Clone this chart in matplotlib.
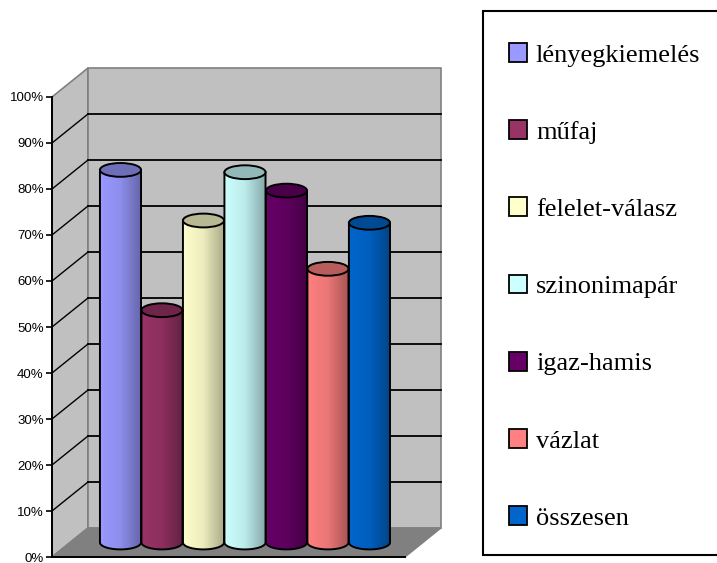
"""Hungarian task-type results, Excel style 3D cylinder chart."""
import matplotlib
matplotlib.use("Agg")
import matplotlib.pyplot as plt
import numpy as np
from matplotlib.colors import LinearSegmentedColormap, to_rgb
from matplotlib.patches import Ellipse, Patch, Polygon, Rectangle

labels = ["lényegkiemelés", "műfaj", "felelet-válasz", "szinonimapár", "igaz-hamis", "vázlat", "összesen"]
values = [81, 50.5, 70, 80.5, 76.5, 59.5, 69.5]
colors = ["#9999FF", "#993366", "#FFFFCC", "#CCFFFF", "#660066", "#FF8080", "#0066CC"]
y_ticks = [0, 10, 20, 30, 40, 50, 60, 70, 80, 90, 100]

# depth of the fake 3D box, in data units
DX = 0.867
DY = 6.3
X_MIN = -1.217
X_MAX = 7.29
BAR_W = 0.99
ELL_H = 3.0

fig = plt.figure(figsize=(7.17, 5.63), dpi=100)
ax = fig.add_axes([52 / 717, 6 / 563, 353 / 717, 460 / 563])
ax.patch.set_visible(False)

# walls and floor
wall_kw = dict(facecolor="#C0C0C0", edgecolor="#808080", linewidth=1.2, clip_on=False, zorder=1)
ax.add_patch(Polygon([(X_MIN, 0), (X_MIN + DX, DY), (X_MIN + DX, 100 + DY), (X_MIN, 100)], **wall_kw))
ax.add_patch(Polygon([(X_MIN + DX, DY), (X_MAX + DX, DY), (X_MAX + DX, 100 + DY), (X_MIN + DX, 100 + DY)], **wall_kw))
ax.add_patch(Polygon([(X_MIN, 0), (X_MAX, 0), (X_MAX + DX, DY), (X_MIN + DX, DY)],
                     facecolor="#808080", edgecolor="#808080", clip_on=False, zorder=1))

# gridlines
for t in y_ticks[1:-1]:
    ax.plot([X_MIN + DX, X_MAX + DX], [t + DY, t + DY], color="black", lw=1.3, clip_on=False, zorder=2)
    ax.plot([X_MIN, X_MIN + DX], [t, t + DY], color="black", lw=1.0, clip_on=False, zorder=2)

# cylinders, right to left so that the left one sits on top
base = DY / 2
theta = np.linspace(np.pi, 2 * np.pi, 40)
for i in range(len(values) - 1, -1, -1):
    x = i + DX / 2
    top = values[i] + base
    rgb = np.array(to_rgb(colors[i]))
    cmap = LinearSegmentedColormap.from_list("c", [rgb, rgb * 0.92, rgb * 0.66])
    left, right = x - BAR_W / 2, x + BAR_W / 2
    arc_x = x + BAR_W / 2 * np.cos(theta)
    arc_y = base + ELL_H / 2 * np.sin(theta)
    outline = np.vstack([[(left, top)], np.column_stack([arc_x, arc_y]), [(right, top)]])
    body = Polygon(outline, closed=True, facecolor="none", edgecolor="black", lw=1.4,
                   clip_on=False, zorder=10 + 2 * (7 - i) + 1)
    im = ax.imshow(np.linspace(0, 1, 64).reshape(1, -1), cmap=cmap, aspect="auto",
                   extent=(left, right, base - ELL_H, top), zorder=10 + 2 * (7 - i))
    ax.add_patch(body)
    im.set_clip_path(body)
    ax.add_patch(Ellipse((x, top), BAR_W, ELL_H, facecolor=rgb * 0.72, edgecolor="black", lw=1.4,
                         clip_on=False, zorder=10 + 2 * (7 - i) + 1))

ax.set_xlim(X_MIN, X_MAX)
ax.set_ylim(0, 100)
ax.set_xticks([])
ax.set_yticks(y_ticks)
ax.set_yticklabels([f"{t}%" for t in y_ticks], fontsize=9.5, family="Liberation Sans")
ax.tick_params(axis="y", length=4, width=1.2, pad=2)
for side in ["top", "right"]:
    ax.spines[side].set_visible(False)
for side in ["left", "bottom"]:
    ax.spines[side].set_linewidth(1.4)
    ax.spines[side].set_zorder(40)

# legend box runs off the right edge of the picture
fig.add_artist(Rectangle((483 / 717, 8 / 563), 240 / 717, 544 / 563, transform=fig.transFigure,
                         facecolor="white", edgecolor="black", linewidth=1.5))
handles = [Patch(facecolor=c, edgecolor="black", linewidth=1.3) for c in colors]
leg = fig.legend(handles, labels, loc="upper left", frameon=False,
                 bbox_to_anchor=(509 / 717, 520 / 563), bbox_transform=fig.transFigure,
                 prop={"family": "Liberation Serif", "size": 19},
                 handlelength=0.68, handleheight=0.72, handletextpad=0.34,
                 labelspacing=2.03, borderpad=0, borderaxespad=0)

fig.savefig("out.png", dpi=100)
